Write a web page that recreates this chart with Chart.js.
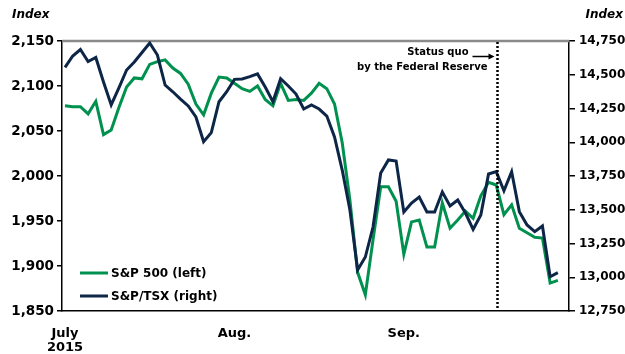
<!DOCTYPE html>
<html><head><meta charset="utf-8">
<script src="https://cdn.jsdelivr.net/npm/chart.js@4.4.0/dist/chart.umd.min.js"></script>
<style>html,body{margin:0;padding:0;background:#fff;}#wrap{width:625px;height:354px;position:relative;}</style>
</head><body><div id="wrap"><canvas id="c" width="625" height="354"></canvas></div>
<script>
// ---- data (index levels) ----
const sp500 = [2078,2077,2077,2069,2083,2046,2051,2076,2099,2109,2108,2124,2127,2129,2120,2114,2102,2080,2068,2092,2110,2109,2103,2097,2094,2100,2085,2078,2103,2084,2085,2084,2092,2103,2097,2080,2037,1973,1893,1868,1929,1988,1988,1972,1913,1949,1951,1921,1921,1970,1942,1951,1961,1953,1978,1993,1990,1957,1968,1942,1937,1932,1931,1881,1884];
const tsx = [14554,14639,14687,14598,14628,14446,14276,14402,14535,14594,14665,14735,14646,14424,14374,14320,14269,14187,14004,14071,14300,14374,14466,14469,14486,14506,14409,14300,14471,14417,14357,14246,14276,14246,14194,14039,13794,13498,13054,13150,13372,13772,13869,13861,13483,13550,13594,13483,13483,13631,13528,13572,13476,13354,13461,13765,13782,13641,13782,13486,13387,13338,13380,13004,13034];
const dayIndex = sp500.map((_, i) => i);
const xTickPositions = [0, 22, 44];
const xTickLabels = [['July', '2015'], 'Aug.', 'Sep.'];
const leftTicks = [1850, 1900, 1950, 2000, 2050, 2100, 2150];
const rightTicks = [12750, 13000, 13250, 13500, 13750, 14000, 14250, 14500, 14750];
const seriesNames = ['S&P 500 (left)', 'S&P/TSX (right)'];
const fedEventIndex = 56.1;
const annotationLines = ['Status quo', 'by the Federal Reserve'];

const GREEN = '#00914F';
const NAVY = '#0D2546';
const FONT = '"DejaVu Sans", sans-serif';

const fmt = v => Number(v).toLocaleString('en-US');

const extras = {
  id: 'extras',
  beforeDatasetsDraw(chart) {
    const {ctx, chartArea: a, scales} = chart;
    const yTop = scales.yL.getPixelForValue(leftTicks[leftTicks.length - 1]);
    ctx.save();
    ctx.strokeStyle = '#8a8a8a';
    ctx.lineWidth = 2.5;
    ctx.beginPath(); ctx.moveTo(a.left, yTop); ctx.lineTo(a.right, yTop); ctx.stroke();
    ctx.restore();
  },
  afterDatasetsDraw(chart) {
    const {ctx, chartArea: a, scales} = chart;
    ctx.save();
    const xe = Math.round(scales.x.getPixelForValue(fedEventIndex)) + 0.5;
    ctx.strokeStyle = '#000';
    ctx.lineWidth = 2.5;
    ctx.setLineDash([2, 2]);
    ctx.beginPath(); ctx.moveTo(xe, a.top + 1); ctx.lineTo(xe, a.bottom - 2); ctx.stroke();
    ctx.setLineDash([]);
    ctx.fillStyle = '#000';
    ctx.font = 'bold 10px ' + FONT;
    ctx.textAlign = 'right';
    ctx.textBaseline = 'middle';
    ctx.fillText(annotationLines[0], xe - 29, a.top + 11);
    ctx.fillText(annotationLines[1], xe - 10, a.top + 26);
    const ay = a.top + 15.5;
    ctx.lineWidth = 1.5;
    ctx.beginPath(); ctx.moveTo(xe - 25, ay); ctx.lineTo(xe - 6, ay); ctx.stroke();
    ctx.beginPath(); ctx.moveTo(xe - 3, ay); ctx.lineTo(xe - 9, ay - 3); ctx.lineTo(xe - 9, ay + 3); ctx.closePath(); ctx.fill();
    ctx.font = 'italic bold 12px ' + FONT;
    ctx.textAlign = 'left';
    ctx.fillText('Index', 12, 15);
    ctx.textAlign = 'right';
    ctx.fillText('Index', 623, 15);
    const lx = a.left + 18, ly1 = a.bottom - 38, ly2 = a.bottom - 15;
    ctx.lineWidth = 3;
    ctx.strokeStyle = GREEN;
    ctx.beginPath(); ctx.moveTo(lx, ly1); ctx.lineTo(lx + 28, ly1); ctx.stroke();
    ctx.strokeStyle = NAVY;
    ctx.beginPath(); ctx.moveTo(lx, ly2); ctx.lineTo(lx + 28, ly2); ctx.stroke();
    ctx.font = 'bold 12px ' + FONT;
    ctx.textAlign = 'left';
    ctx.fillStyle = '#000';
    ctx.fillText(seriesNames[0], lx + 31, ly1 + 0.5);
    ctx.fillText(seriesNames[1], lx + 31, ly2 + 0.5);
    ctx.restore();
  }
};

new Chart(document.getElementById('c'), {
  type: 'line',
  data: {
    labels: dayIndex,
    datasets: [
      {label: seriesNames[1], data: dayIndex.map((d, i) => ({x: d, y: tsx[i]})), yAxisID: 'yR', borderColor: NAVY, borderWidth: 3, pointRadius: 0, tension: 0, order: 0},
      {label: seriesNames[0], data: dayIndex.map((d, i) => ({x: d, y: sp500[i]})), yAxisID: 'yL', borderColor: GREEN, borderWidth: 3, pointRadius: 0, tension: 0, order: 1}
    ]
  },
  options: {
    responsive: false,
    animation: false,
    devicePixelRatio: 1,
    layout: {padding: {top: 41, left: 0, right: 0, bottom: 0}},
    plugins: {legend: {display: false}, tooltip: {enabled: false}},
    scales: {
      x: {
        type: 'linear', min: -0.39, max: 65.45,
        afterBuildTicks: s => { s.ticks = xTickPositions.map(v => ({value: v})); },
        afterFit: s => { s.height = 43; },
        grid: {display: false},
        border: {display: true, color: '#000', width: 1.5},
        ticks: {
          autoSkip: false, maxRotation: 0, padding: 8, color: '#000',
          font: {family: FONT, weight: 'bold', size: 13, lineHeight: 1.05},
          callback: v => { const k = xTickPositions.indexOf(v); return k >= 0 ? xTickLabels[k] : ''; }
        }
      },
      yL: {
        position: 'left', min: leftTicks[0], max: leftTicks[leftTicks.length - 1],
        afterBuildTicks: s => { s.ticks = leftTicks.map(v => ({value: v})); },
        afterFit: s => { s.width = 62; },
        grid: {drawOnChartArea: false, drawTicks: true, tickLength: 5, color: '#000', lineWidth: 1.5},
        border: {display: true, color: '#000', width: 1.5},
        ticks: {padding: 3, color: '#000', font: {family: FONT, weight: 'bold', size: 13.5}, callback: fmt}
      },
      yR: {
        position: 'right', min: rightTicks[0], max: rightTicks[rightTicks.length - 1],
        afterBuildTicks: s => { s.ticks = rightTicks.map(v => ({value: v})); },
        afterFit: s => { s.width = 56; },
        grid: {drawOnChartArea: false, drawTicks: true, tickLength: 6, color: '#000', lineWidth: 1.5},
        border: {display: true, color: '#000', width: 1.5},
        ticks: {padding: 4, color: '#000', font: {family: FONT, weight: 'bold', size: 12}, callback: fmt}
      }
    }
  },
  plugins: [extras]
});
</script>
</body></html>
